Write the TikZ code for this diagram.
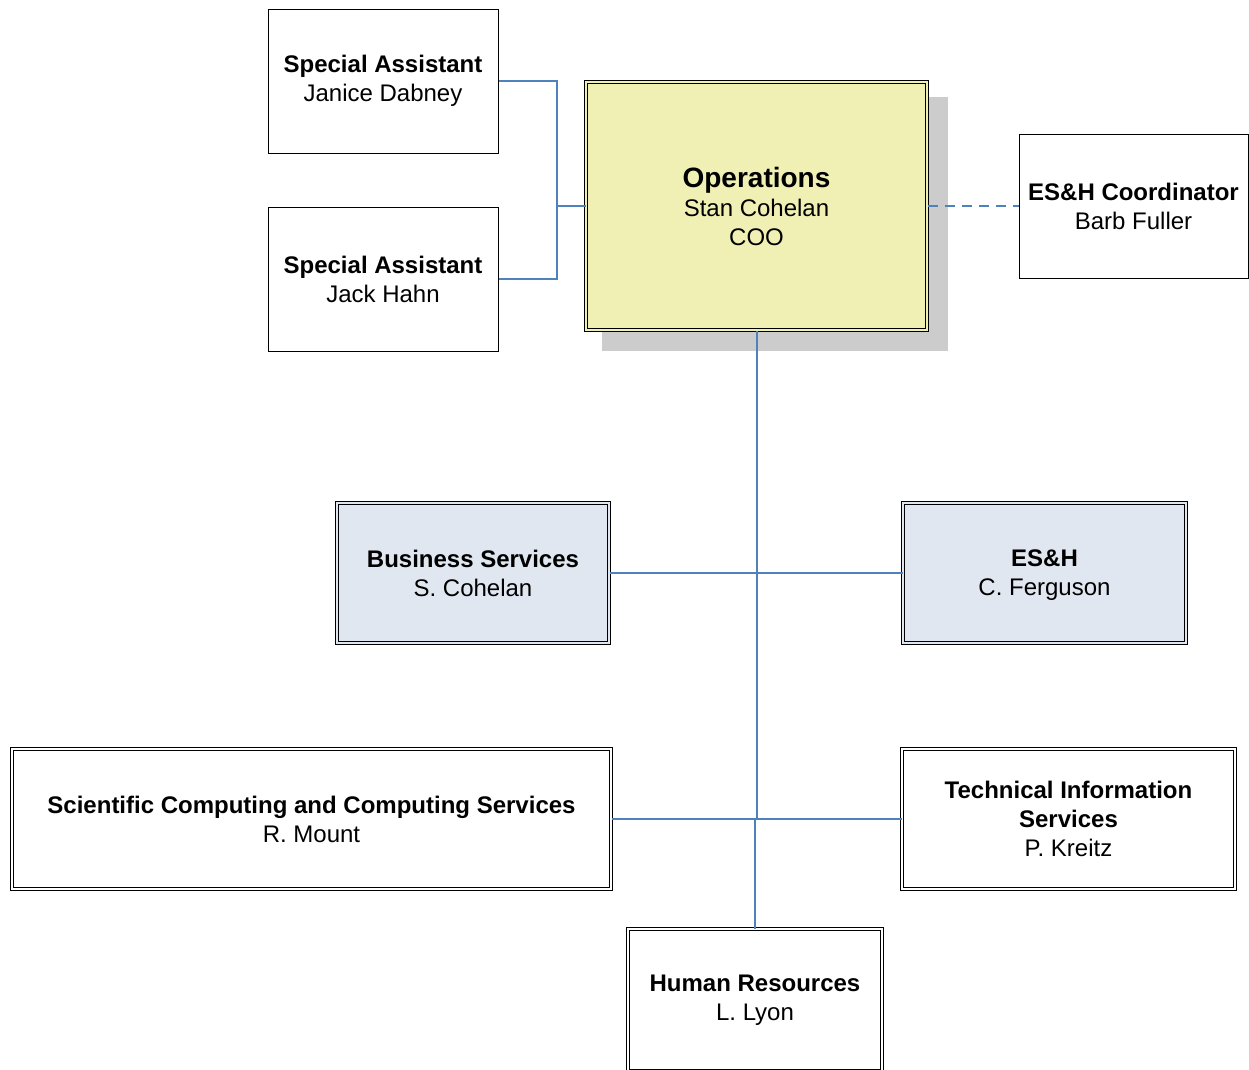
\documentclass[tikz,border=0pt]{standalone}
\usepackage{fontspec}
\setmainfont{Liberation Sans}
\definecolor{lineblue}{HTML}{4F81BD}
\definecolor{opsfill}{HTML}{F0F0B4}
\definecolor{bsfill}{HTML}{E1E7F1}
\definecolor{shadowgray}{HTML}{CCCCCC}
\begin{document}
\begin{tikzpicture}[x=1pt,y=-1pt,
  box/.style={draw=black, line width=1pt, fill=white, rectangle, align=center,
    inner sep=0pt, font=\fontsize{24}{29}\selectfont},
  dbox/.style={box, double=#1, double distance=2.5pt, line width=1pt, fill=#1},
  dbox/.default=white,
  conn/.style={draw=lineblue, line width=1.2pt}]
\useasboundingbox (0,0) rectangle (1249,1069);

% shadow of Operations
\fill[shadowgray] (602,97) rectangle (948,351);

\node[box, minimum width=230pt, minimum height=144pt] (sa1) at (383,81)
  {\textbf{Special Assistant}\\Janice Dabney};
\node[box, minimum width=230pt, minimum height=144pt] (sa2) at (383,279)
  {\textbf{Special Assistant}\\Jack Hahn};
\node[dbox=opsfill, minimum width=341pt, minimum height=248pt] (ops) at (756.5,206)
  {{\fontsize{28}{31}\selectfont\textbf{Operations}}\\Stan Cohelan\\COO};
\node[box, minimum width=229pt, minimum height=144pt] (coord) at (1133.5,206)
  {\textbf{ES\&H Coordinator}\\Barb Fuller};
\node[dbox=bsfill, minimum width=272pt, minimum height=140pt] (bs) at (473,573)
  {\textbf{Business Services}\\S. Cohelan};
\node[dbox=bsfill, minimum width=283pt, minimum height=140pt] (esh) at (1044.5,573)
  {\textbf{ES\&H}\strut\\C. Ferguson};
\node[dbox, minimum width=599pt, minimum height=140pt] (scc) at (311.5,819)
  {\textbf{Scientific Computing and Computing Services}\\R. Mount};
\node[dbox, minimum width=333pt, minimum height=140pt] (tis) at (1068.5,819)
  {\textbf{Technical Information}\\\textbf{Services}\\P. Kreitz};
\node[dbox, minimum width=254pt, minimum height=142pt] (hr) at (755,1000)
  {\textbf{Human Resources}\\L. Lyon};

% connectors
\coordinate (jl) at (557,206);
\draw[conn] (sa1.east) -| (jl) |- (sa2.east);
\draw[conn] (jl) -- (ops.west);
\draw[conn, dash pattern=on 10pt off 7pt] (ops.east) -- (coord.west);
\coordinate (jb) at (ops.south |- scc.east);
\draw[conn, line width=2pt] (ops.south) -- (jb);
\draw[conn] (bs.east) -- (esh.west);
\draw[conn] (scc.east) -- (tis.west);
\draw[conn] (hr.north |- jb) -- (hr.north);
\end{tikzpicture}
\end{document}
